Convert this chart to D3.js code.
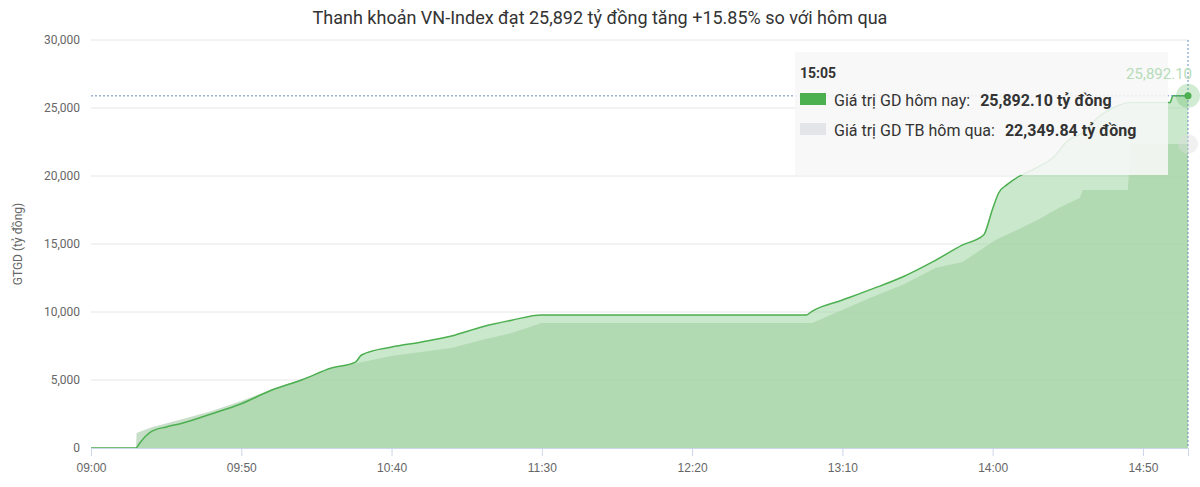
<!DOCTYPE html>
<html>
<head>
<meta charset="utf-8">
<script src="https://cdn.jsdelivr.net/npm/d3@7"></script>
<style>
body { margin: 0; background: #fff; font-family: Roboto, "Noto Sans", sans-serif; }
</style>
</head>
<body>
<svg id="chart" width="1200" height="487"></svg>
<script>
// phut tinh tu 09:00
const todayTimes = [0, 15, 16, 20, 25, 30, 40, 50, 60, 70, 80, 88, 90, 100, 110, 120, 130, 140, 150, 238, 240, 250, 260, 270, 280, 290, 297, 300, 302, 305, 315, 320, 325, 330, 335, 340, 346, 359, 360, 365];
const todayValues = [0, 0, 300, 1200, 1550, 1800, 2500, 3250, 4250, 5000, 5880, 6320, 6840, 7430, 7800, 8240, 8900, 9400, 9780, 9780, 10070, 10880, 11700, 12570, 13680, 14930, 15660, 17600, 18750, 19400, 20660, 21320, 22600, 23200, 24300, 25000, 25400, 25400, 25892.1, 25892.1];
const prevTimes = [0, 15, 15.2, 20, 30, 40, 50, 60, 70, 80, 90, 100, 110, 120, 130, 140, 150, 240, 250, 260, 270, 281, 290, 301, 315, 322, 329, 330, 345, 346, 365];
const prevValues = [0, 0, 1100, 1500, 2100, 2700, 3450, 4300, 5050, 5800, 6300, 6760, 7050, 7350, 7940, 8450, 9190, 9190, 10150, 11100, 11990, 13240, 13680, 15290, 16760, 17650, 18380, 18970, 18970, 22349.84, 22349.84];
const yTicks = [0, 5000, 10000, 15000, 20000, 25000, 30000];
const xTickLabels = ["09:00", "09:50", "10:40", "11:30", "12:20", "13:10", "14:00", "14:50"];

const svg = d3.select("#chart");
const mLeft = 91, mRight = 1188, mTop = 40, mBottom = 448;

const x = d3.scaleLinear().domain([0, 365]).range([mLeft, mRight]);
const y = d3.scaleLinear().domain([0, 30000]).range([mBottom, mTop]);

svg.append("text").attr("x", 600).attr("y", 24).attr("text-anchor", "middle")
  .attr("font-size", 18).attr("fill", "#333").text("Thanh khoản VN-Index đạt 25,892 tỷ đồng tăng +15.85% so với hôm qua");

// luoi ngang
svg.append("g").selectAll("line").data(yTicks).join("line")
  .attr("x1", mLeft).attr("x2", mRight).attr("y1", d => y(d)).attr("y2", d => y(d))
  .attr("stroke", "#e6e6e6");

const yAxis = svg.append("g").attr("transform", `translate(${mLeft - 8},0)`)
  .call(d3.axisLeft(y).tickValues(yTicks).tickSize(0).tickFormat(d3.format(",")));
yAxis.select(".domain").remove();
yAxis.selectAll("text").attr("font-size", 12).attr("fill", "#666").attr("font-family", "Roboto");

svg.append("text").attr("transform", "translate(22,244) rotate(-90)").attr("text-anchor", "middle")
  .attr("font-size", 12).attr("fill", "#666").text("GTGD (tỷ đồng)");

const prev = prevTimes.map((t, i) => [t, prevValues[i]]);
const today = todayTimes.map((t, i) => [t, todayValues[i]]);

const area = d3.area().x(d => x(d[0])).y0(y(0)).y1(d => y(d[1]));
svg.append("path").datum(prev).attr("d", area).attr("fill", "#c9d2c9").attr("opacity", 0.55);
svg.append("path").datum(prev).attr("d", area).attr("fill", "#a9d6ab").attr("opacity", 0.45);
svg.append("path").datum(today).attr("d", area).attr("fill", "#9fd6a1").attr("opacity", 0.55);
svg.append("path").datum(today)
  .attr("d", d3.line().x(d => x(d[0])).y(d => y(d[1])).curve(d3.curveMonotoneX))
  .attr("fill", "none").attr("stroke", "#4caf50").attr("stroke-width", 1.5);

// axe x
const xTickVals = xTickLabels.map(s => { const p = s.split(":"); return (+p[0] - 9) * 60 + +p[1]; });
const xAxis = svg.append("g").attr("transform", `translate(0,${mBottom})`)
  .call(d3.axisBottom(x).tickValues(xTickVals).tickSize(8).tickFormat((d, i) => xTickLabels[i]));
xAxis.select(".domain").attr("stroke", "#ccd6eb");
xAxis.selectAll("line").attr("stroke", "#ccd6eb");
xAxis.selectAll("text").attr("font-size", 12).attr("fill", "#666").attr("dy", "1.1em");

// crosshair
const last = today[today.length - 1];
svg.append("line").attr("x1", mLeft).attr("x2", mRight).attr("y1", y(last[1])).attr("y2", y(last[1]))
  .attr("stroke", "#6a8fc0").attr("stroke-dasharray", "2,2");
svg.append("line").attr("x1", mRight).attr("x2", mRight).attr("y1", mTop).attr("y2", mBottom)
  .attr("stroke", "#6a8fc0").attr("stroke-dasharray", "2,2");

// tooltip
const tip = svg.append("g");
tip.append("rect").attr("x", 795).attr("y", 52).attr("width", 373).attr("height", 123)
  .attr("fill", "#f7f7f7").attr("opacity", 0.88);
tip.append("text").attr("x", 800).attr("y", 78).attr("font-size", 14).attr("font-weight", "bold").attr("fill", "#333").text("15:05");
tip.append("rect").attr("x", 800).attr("y", 93).attr("width", 26).attr("height", 12).attr("fill", "#4caf50");
tip.append("text").attr("x", 834).attr("y", 106).attr("font-size", 16).attr("fill", "#333")
  .html('Giá trị GD hôm nay: <tspan font-weight="bold" dx="6">' + d3.format(",.2f")(last[1]) + ' tỷ đồng</tspan>');
tip.append("rect").attr("x", 800).attr("y", 123).attr("width", 26).attr("height", 12).attr("fill", "#e3e5e8");
tip.append("text").attr("x", 834).attr("y", 136).attr("font-size", 16).attr("fill", "#333")
  .html('Giá trị GD TB hôm qua: <tspan font-weight="bold" dx="6">' + d3.format(",.2f")(prevValues[prevValues.length - 1]) + ' tỷ đồng</tspan>');

svg.append("text").attr("x", 1192).attr("y", 79).attr("text-anchor", "end").attr("font-size", 15)
  .attr("fill", "#b6dcb8").text(d3.format(",.2f")(last[1]));

svg.append("circle").attr("cx", x(last[0])).attr("cy", y(last[1])).attr("r", 12).attr("fill", "#4caf50").attr("opacity", 0.25);
svg.append("circle").attr("cx", x(last[0])).attr("cy", y(last[1])).attr("r", 3.5).attr("fill", "#4caf50");
svg.append("circle").attr("cx", x(last[0])).attr("cy", y(prevValues[prevValues.length - 1])).attr("r", 10).attr("fill", "#ddd").attr("opacity", 0.4);
</script>
</body>
</html>
